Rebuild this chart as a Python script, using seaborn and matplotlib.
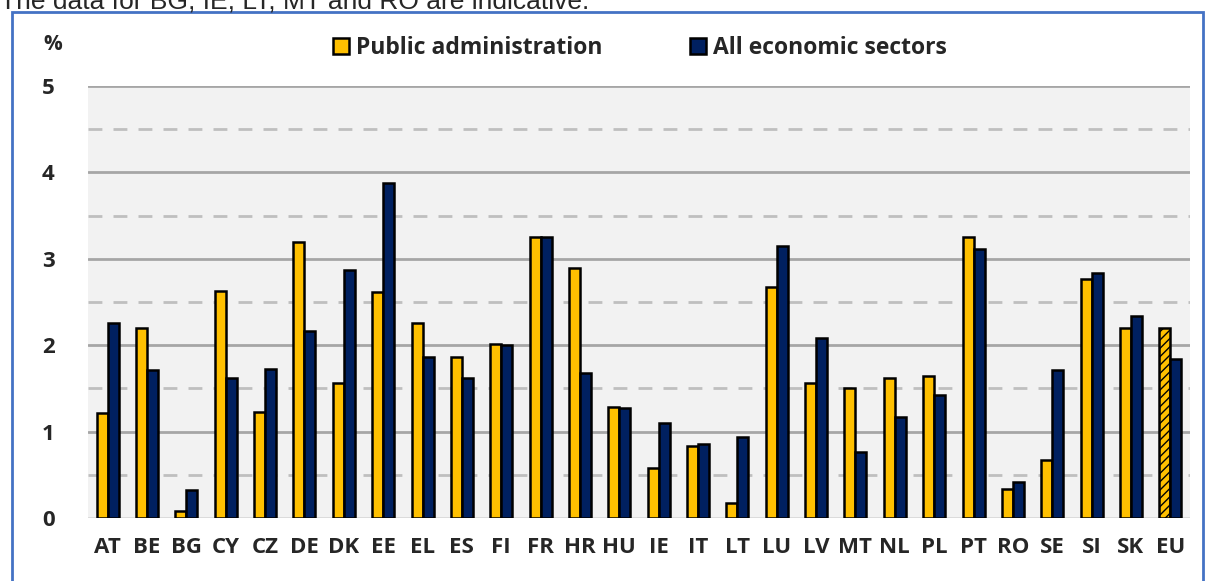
import matplotlib
matplotlib.use("Agg")
import matplotlib.pyplot as plt
from matplotlib.patches import Rectangle, Patch
from matplotlib.ticker import MultipleLocator
import seaborn as sns
import pandas as pd

countries = ["AT", "BE", "BG", "CY", "CZ", "DE", "DK", "EE", "EL", "ES", "FI", "FR", "HR", "HU",
             "IE", "IT", "LT", "LU", "LV", "MT", "NL", "PL", "PT", "RO", "SE", "SI", "SK", "EU"]
public_admin = [1.21, 2.20, 0.08, 2.63, 1.23, 3.19, 1.56, 2.61, 2.26, 1.86, 2.01, 3.25, 2.89, 1.28,
                0.58, 0.83, 0.17, 2.67, 1.56, 1.50, 1.62, 1.64, 3.25, 0.33, 0.67, 2.77, 2.20, 2.20]
all_sectors = [2.26, 1.71, 0.32, 1.62, 1.72, 2.17, 2.87, 3.88, 1.86, 1.62, 2.00, 3.25, 1.68, 1.27,
               1.10, 0.86, 0.94, 3.15, 2.08, 0.76, 1.17, 1.42, 3.11, 0.42, 1.71, 2.84, 2.34, 1.84]
series = ["Public administration", "All economic sectors"]
colors = {"Public administration": "#FFC000", "All economic sectors": "#002060"}

df = pd.DataFrame({
    "country": countries * 2,
    "value": public_admin + all_sectors,
    "series": [series[0]] * len(countries) + [series[1]] * len(countries),
})

sns.set_style("white")
plt.rcParams["font.family"] = ["Open Sans", "DejaVu Sans"]

fig = plt.figure(figsize=(12.09, 5.81), dpi=100)
ax = fig.add_axes([88 / 1209, 63 / 581, 1102 / 1209, 432 / 581])
ax.set_facecolor("#f2f2f2")

sns.barplot(data=df, x="country", y="value", hue="series", hue_order=series,
            palette=colors, width=0.56, edgecolor="black", linewidth=1.8,
            saturation=1, ax=ax, legend=False, zorder=3)

# hatched EU bar for public administration
eu_bar = ax.containers[0][-1]
eu_bar.set_hatch("////")

ax.set_ylim(0, 5)
ax.set_xlim(-0.5, len(countries) - 0.5)
ax.yaxis.set_major_locator(MultipleLocator(1))
ax.grid(False)
for y in [1, 2, 3, 4, 5]:
    ax.axhline(y, color="#a6a6a6", lw=2, zorder=1)
for y in [0.5, 1.5, 2.5, 3.5, 4.5]:
    ax.axhline(y, color="#bfbfbf", lw=2, ls=(0, (5, 4)), zorder=1)
ax.axhline(0, color="#d9d9d9", lw=2, zorder=1)
for s in ax.spines.values():
    s.set_visible(False)
ax.tick_params(axis="both", length=0, labelsize=16)
ax.tick_params(axis="y", pad=24)
ax.tick_params(axis="x", pad=14)
for lab in ax.get_xticklabels() + ax.get_yticklabels():
    lab.set_fontweight("bold")
ax.set_xlabel("")
ax.set_ylabel("")

fig.text(53 / 1209, 1 - 45 / 581, "%", fontsize=15, fontweight="bold", ha="center", va="center")
fig.text(0.0, 1 - 8 / 581, "The data for BG, IE, LT, MT and RO are indicative.",
         fontsize=19, family="Liberation Sans", ha="left", va="baseline")

handles = [Patch(facecolor=colors[s], edgecolor="black", linewidth=1.8) for s in series]
fig.legend(handles, series, loc="center", bbox_to_anchor=(640 / 1209, 1 - 48 / 581),
           ncol=2, frameon=False, handlelength=0.7, handleheight=0.7, handletextpad=0.3,
           columnspacing=3.8, prop={"size": 16.5, "weight": "bold"})

fig.patches.append(Rectangle((12 / 1209, -0.05), 1191 / 1209, 1.05 - 12 / 581,
                             transform=fig.transFigure, fill=False,
                             edgecolor="#4472C4", lw=2))

fig.savefig("out.png", dpi=100)
